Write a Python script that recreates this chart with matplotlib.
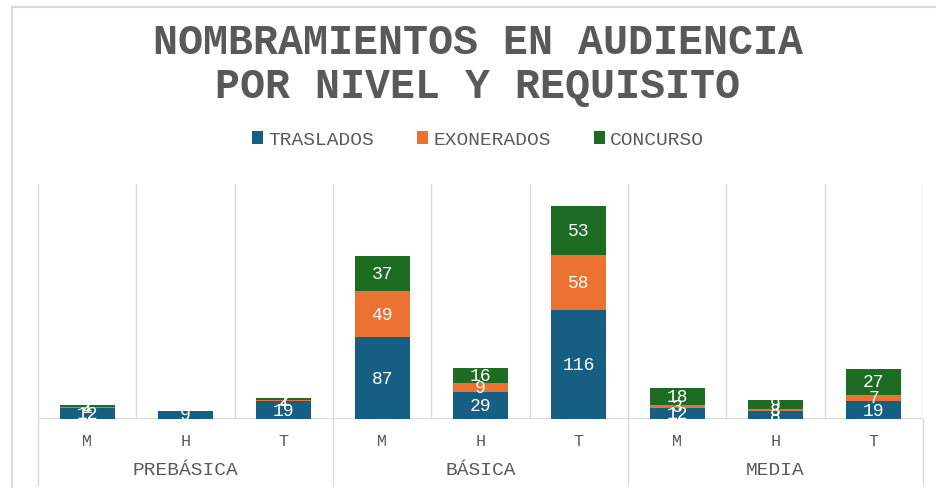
import numpy as np
import matplotlib
matplotlib.use("Agg")
import matplotlib.pyplot as plt
import matplotlib.transforms as mtransforms
from matplotlib.patches import Rectangle

plt.rcParams['font.family'] = ['Liberation Mono', 'DejaVu Sans Mono']

# data
niveles = ["PREBÁSICA", "BÁSICA", "MEDIA"]
requisitos = ["M", "H", "T"]
traslados = [12, 9, 19, 87, 29, 116, 12, 8, 19]
exonerados = [1, 0, 1, 49, 9, 58, 3, 3, 7]
concurso = [2, 0, 2, 37, 16, 53, 18, 9, 27]
series_names = ["TRASLADOS", "EXONERADOS", "CONCURSO"]
colores = ["#175E83", "#EC7232", "#1E6B24"]

gray = "#595959"
grid_c = "#D9D9D9"

fig = plt.figure(figsize=(9.37, 4.89), dpi=100)
ax = fig.add_axes([0.0406, 0.1411, 0.9444, 0.4806])

x = np.arange(len(traslados))
series = [traslados, exonerados, concurso]
bottom = np.zeros(len(x))
for vals, name, col in zip(series, series_names, colores):
    vals = np.array(vals, dtype=float)
    ax.bar(x, vals, 0.56, bottom=bottom, color=col, label=name, zorder=3)
    for xi, v, b in zip(x, vals, bottom):
        if v > 0:
            ax.text(xi, b + v / 2, str(int(v)), ha='center', va='center',
                    color='white', fontsize=13, zorder=4)
    bottom += vals

ax.set_xlim(-0.5, len(x) - 0.5)
ax.set_ylim(0, 250)
ax.set_yticks([])
for s in ax.spines.values():
    s.set_visible(False)

# vertical separators in plot area
for b in np.arange(-0.5, len(x), 1.0):
    ax.axvline(b, color=grid_c, lw=1, zorder=1)
ax.axhline(0, color=grid_c, lw=1.2, zorder=2)

ax.set_xticks(x)
ax.set_xticklabels(requisitos * len(niveles), color=gray, fontsize=12)
ax.tick_params(axis='x', length=0, pad=10)

trans = mtransforms.blended_transform_factory(ax.transData, ax.transAxes)
for g in range(len(niveles) + 1):
    xb = g * 3 - 0.5
    ax.plot([xb, xb], [0, -0.28], transform=trans, color=grid_c, lw=1, clip_on=False)
for g, nombre in enumerate(niveles):
    ax.text(g * 3 + 1, -0.213, nombre, transform=trans, ha='center', va='center',
            color=gray, fontsize=14)

fig.text(0.51, 0.867, "NOMBRAMIENTOS EN AUDIENCIA\nPOR NIVEL Y REQUISITO",
         ha='center', va='center', fontsize=30, fontweight='bold', color=gray,
         linespacing=1.15)

fig.legend(loc='center', bbox_to_anchor=(0.51, 0.712), ncol=3, frameon=False,
           fontsize=14, handlelength=0.6, handleheight=0.6, handletextpad=0.25,
           columnspacing=2.2, labelcolor=gray)

fig.patches.append(Rectangle((0.013, -0.01), 1.0, 0.993, transform=fig.transFigure,
                             fill=False, edgecolor=grid_c, lw=1.5))

fig.savefig("out.png", dpi=100)
